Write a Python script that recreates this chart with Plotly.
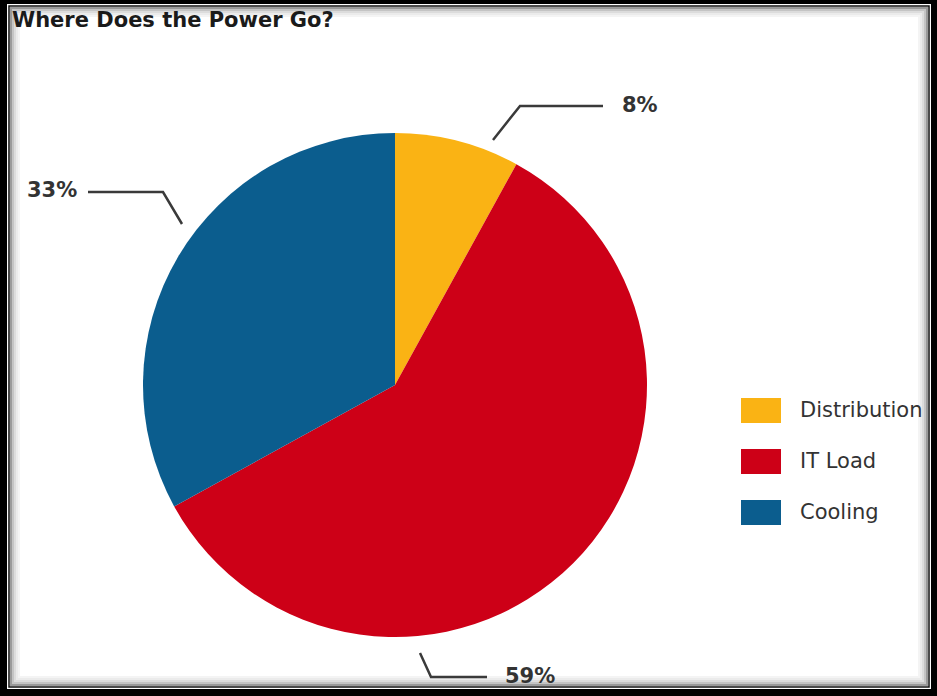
import plotly.graph_objects as go

# ---- data ----
labels = ["Distribution", "IT Load", "Cooling"]
values = [8, 59, 33]
colors = ["#FAB314", "#CD0017", "#0B5D8E"]
title_text = "Where Does the Power Go?"

W, H = 937, 696


def px(x, y):
    return x / W, 1 - y / H


fig = go.Figure()

# pie domain (pixel box converted to paper)
x0, y0 = px(143, 637)
x1, y1 = px(647, 133)
fig.add_trace(go.Pie(
    labels=labels, values=values,
    marker=dict(colors=colors, line=dict(width=0)),
    sort=False, direction="clockwise", rotation=0,
    textinfo="none", hoverinfo="label+percent",
    showlegend=False,
    domain=dict(x=[x0, x1], y=[y0, y1]),
))

shapes = []
# frame
shapes.append(dict(type="rect", xref="paper", yref="paper", x0=0, y0=0, x1=1, y1=1,
                   fillcolor="black", line=dict(width=0), layer="below"))
a = px(7, 689); b = px(931, 4)
shapes.append(dict(type="rect", xref="paper", yref="paper", x0=a[0], y0=a[1], x1=b[0], y1=b[1],
                   fillcolor="white", line=dict(width=0), layer="below"))
a = px(9, 687); b = px(929, 6)
shapes.append(dict(type="rect", xref="paper", yref="paper", x0=a[0], y0=a[1], x1=b[0], y1=b[1],
                   fillcolor="white", line=dict(color="#111", width=1.5), layer="below"))
for i, c in enumerate(["#9a9a9a", "#c4c4c4", "#dcdcdc", "#ebebeb", "#f4f4f4"]):
    d = 11 + i * 2
    a = px(d, 685 - i * 2); b = px(927 - i * 2, 8 + i * 2)
    shapes.append(dict(type="rect", xref="paper", yref="paper", x0=a[0], y0=a[1], x1=b[0], y1=b[1],
                       fillcolor="rgba(0,0,0,0)", line=dict(color=c, width=2), layer="below"))

# leader lines (pixel layout positions)
leaders = [
    [(493, 140), (520, 106), (603, 106)],
    [(420, 653), (431, 677), (487, 677)],
    [(182, 224), (163, 192), (88, 192)],
]
for pts in leaders:
    path = ""
    for k, (x, y) in enumerate(pts):
        fx, fy = px(x, y)
        path += ("M" if k == 0 else "L") + f"{fx},{fy} "
    shapes.append(dict(type="path", xref="paper", yref="paper", path=path,
                       line=dict(color="#3a3a3a", width=2.5)))

annotations = []
label_pos = [(620, 105, "left"), (503, 676, "left"), (79, 190, "right")]
for v, (x, y, al) in zip(values, label_pos):
    fx, fy = px(x, y)
    annotations.append(dict(xref="paper", yref="paper", x=fx, y=fy, xanchor=al, yanchor="middle",
                            text=f"<b>{v}%</b>", showarrow=False,
                            font=dict(family="DejaVu Sans", size=21, color="#333")))

# manual legend
for i, (lab, col) in enumerate(zip(labels, colors)):
    top = 398 + i * 51
    a = px(741, top + 25); b = px(781, top)
    shapes.append(dict(type="rect", xref="paper", yref="paper", x0=a[0], y0=a[1], x1=b[0], y1=b[1],
                       fillcolor=col, line=dict(width=0)))
    fx, fy = px(798, top + 12)
    annotations.append(dict(xref="paper", yref="paper", x=fx, y=fy, xanchor="left", yanchor="middle",
                            text=lab, showarrow=False,
                            font=dict(family="DejaVu Sans", size=21, color="#333")))

# title
fx, fy = px(10, 20)
annotations.append(dict(xref="paper", yref="paper", x=fx, y=fy, xanchor="left", yanchor="middle",
                        text=f"<b>{title_text}</b>", showarrow=False,
                        font=dict(family="DejaVu Sans", size=21, color="#1a1a1a")))

fig.update_layout(
    width=W, height=H,
    margin=dict(l=0, r=0, t=0, b=0),
    paper_bgcolor="white", plot_bgcolor="white",
    shapes=shapes, annotations=annotations,
    showlegend=False,
)

fig.write_html("out.html")
